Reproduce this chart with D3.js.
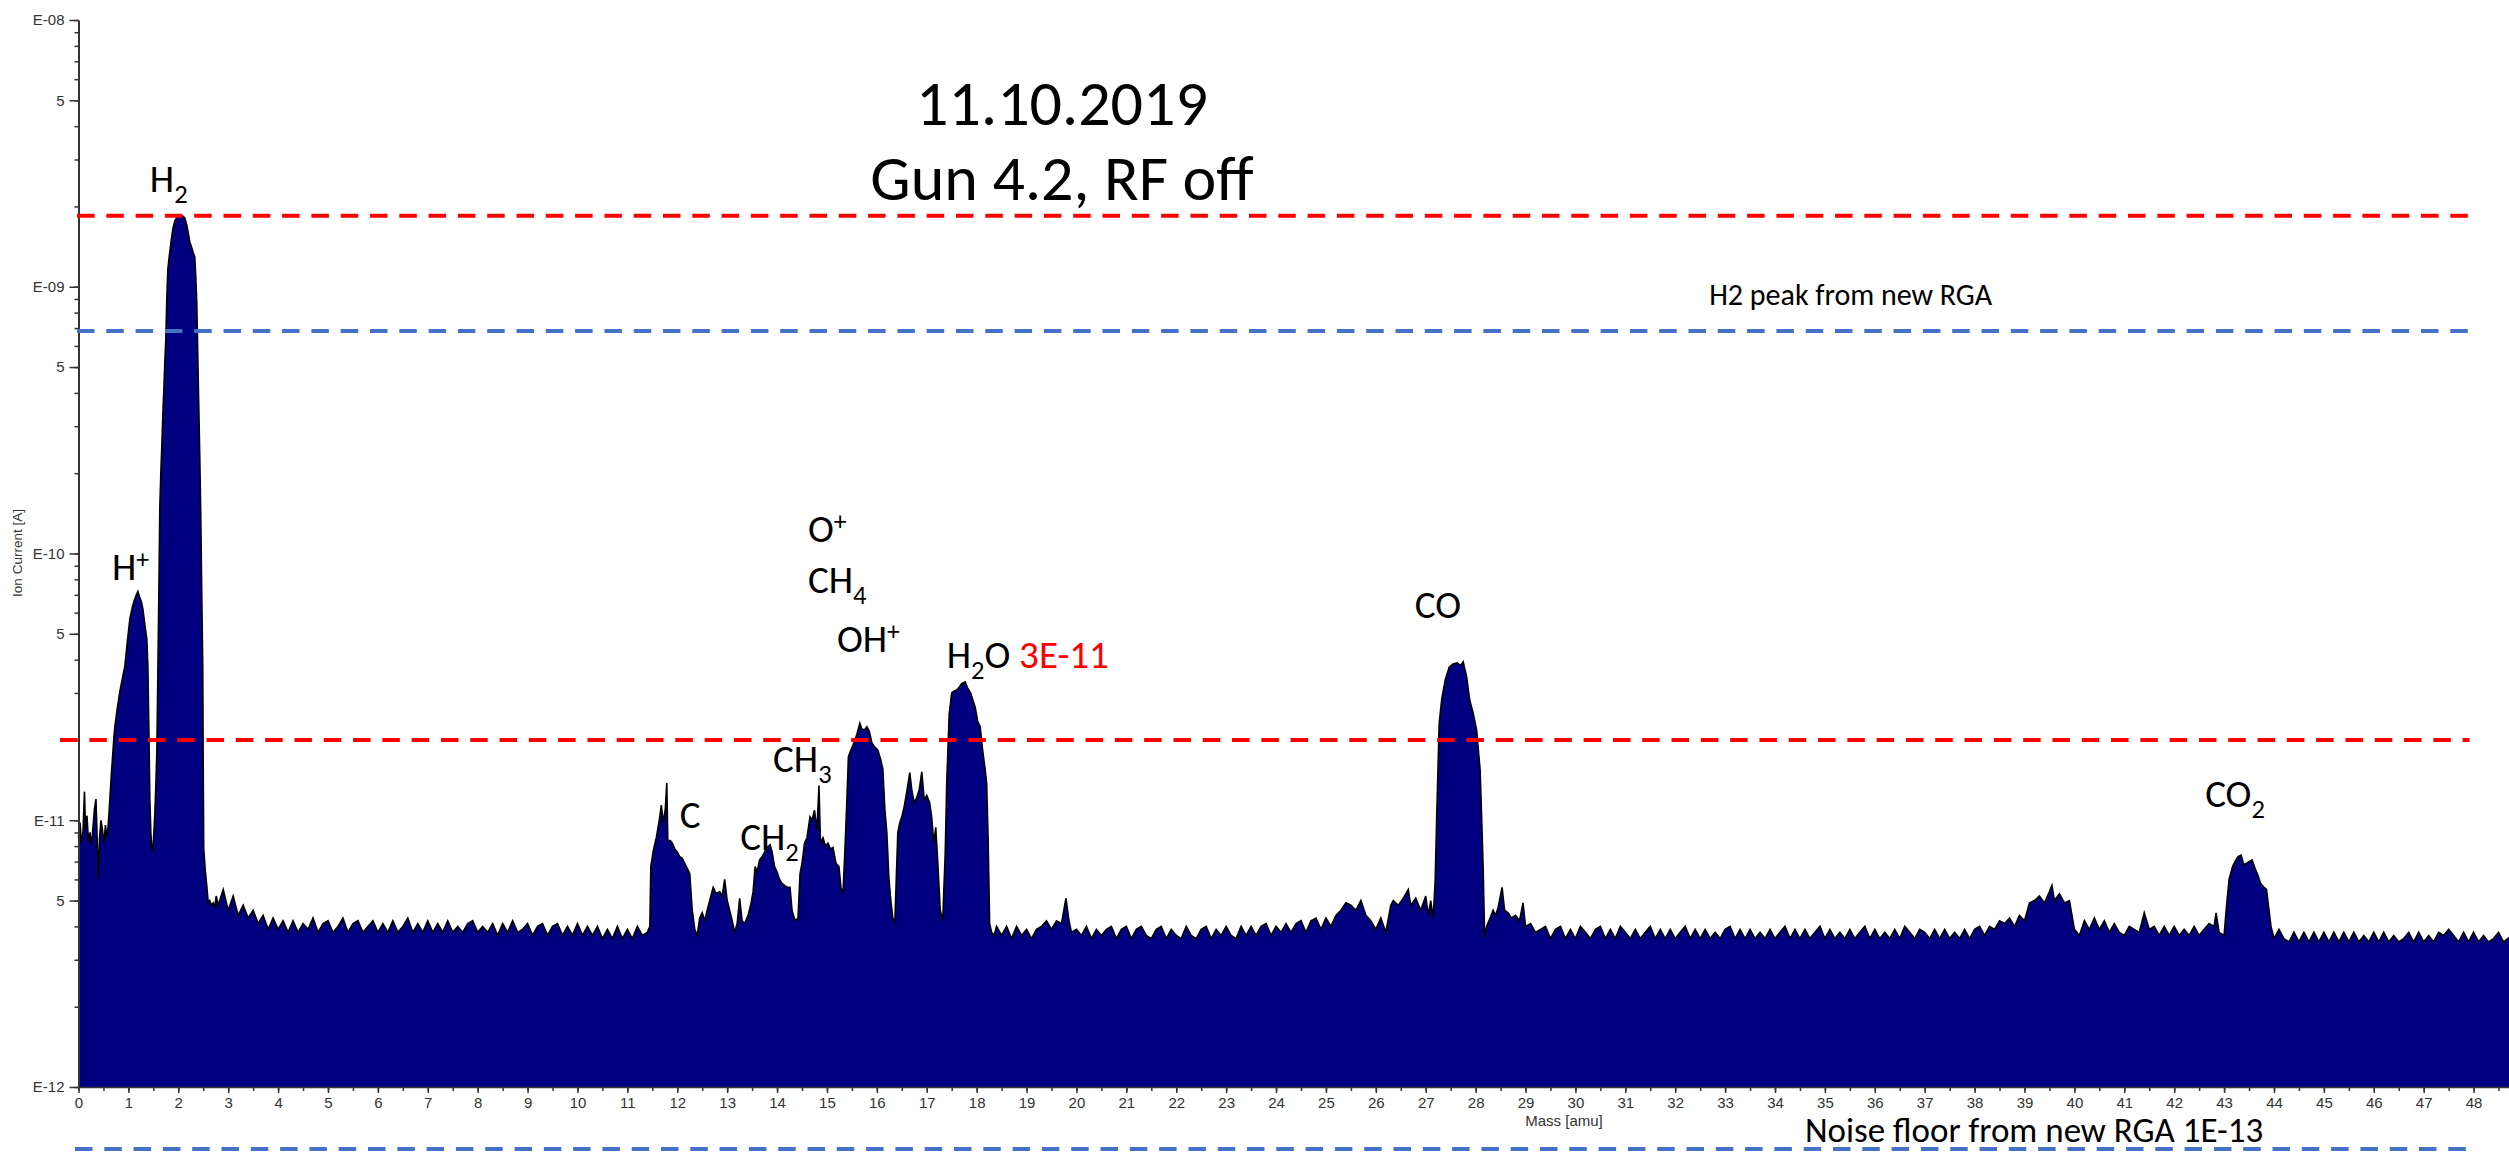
<!DOCTYPE html>
<html><head><meta charset="utf-8">
<script src="https://cdn.jsdelivr.net/npm/d3@7"></script>
<style>body{margin:0;background:#fff}svg{display:block;background:#fff}</style>
</head><body>
<svg id="c" width="2509" height="1153"></svg>
<script>
// ---- data (mass [amu], ion current [pA]) ----
const hydrogenRegion = [[0.00,8.6],[0.03,9.8],[0.06,8.2],[0.09,9.0],[0.12,12.8],[0.14,9.2],[0.17,10.4],[0.20,8.3],[0.23,9.0],[0.26,8.0],[0.29,9.4],[0.32,11.0],[0.35,12.0],[0.38,7.8],[0.40,6.0],[0.42,8.5],[0.45,10.0],[0.48,9.2],[0.51,8.2],[0.54,9.6],[0.57,8.6],[0.59,9.3],[0.61,10.5],[0.63,12.1],[0.66,15],[0.69,18],[0.71,20.5],[0.73,22.6],[0.75,24],[0.77,25.7],[0.80,28],[0.83,30.5],[0.88,34],[0.93,38],[0.98,47],[1.03,57],[1.08,63],[1.12,67],[1.16,70],[1.19,72],[1.22,69],[1.26,66],[1.29,62],[1.33,54],[1.37,47.6],[1.39,38],[1.41,22],[1.43,12],[1.45,9.0],[1.47,7.8],[1.49,7.6],[1.51,9.0],[1.53,10.6],[1.55,13.5],[1.57,18],[1.59,35],[1.61,70],[1.63,150],[1.65,200],[1.67,253],[1.69,330],[1.71,410],[1.73,520],[1.75,638],[1.77,908],[1.79,1157],[1.81,1260],[1.83,1352],[1.86,1500],[1.89,1640],[1.93,1767],[1.97,1815],[2.01,1845],[2.05,1845],[2.09,1840],[2.13,1810],[2.17,1700],[2.20,1590],[2.23,1473],[2.27,1400],[2.30,1340],[2.33,1294],[2.35,1100],[2.37,870],[2.39,560],[2.41,360],[2.43,232],[2.45,140],[2.47,70],[2.49,38],[2.50,15],[2.51,7.8],[2.54,6.5],[2.57,5.7],[2.60,4.9],[2.63,5.0],[2.66,4.8],[2.70,4.9],[2.73,4.7],[2.76,5.2]];
const lowBaseline = [[2.8,4.8],[2.9,5.5],[3.0,4.6],[3.1,5.2],[3.2,4.4],[3.3,4.8],[3.4,4.3],[3.5,4.6],[3.6,4.1],[3.7,4.4],[3.8,3.9],[3.9,4.3],[4.0,3.9],[4.1,4.2],[4.2,3.8],[4.3,4.2],[4.4,3.8],[4.5,4.1],[4.6,3.9],[4.7,4.3],[4.8,3.8],[4.9,4.1],[5.0,4.2],[5.1,3.8],[5.2,4.0],[5.3,4.3],[5.4,3.8],[5.5,4.1],[5.6,4.2],[5.7,3.8],[5.8,4.0],[5.9,4.2],[6.0,3.8],[6.1,4.1],[6.2,3.8],[6.3,4.2],[6.4,3.8],[6.5,4.0],[6.6,4.3],[6.7,3.8],[6.8,4.1],[6.9,3.8],[7.0,4.2],[7.1,3.8],[7.2,4.1],[7.3,3.8],[7.4,4.2],[7.5,3.8],[7.6,4.0],[7.7,3.8],[7.8,4.1],[7.9,4.2],[8.0,3.8],[8.1,4.0],[8.2,3.8],[8.3,4.1],[8.4,3.7],[8.5,4.1],[8.6,3.8],[8.7,4.2],[8.8,3.8],[8.9,3.9],[9.0,4.1],[9.1,3.7],[9.2,4.0],[9.3,4.1],[9.4,3.7],[9.5,4.0],[9.6,4.1],[9.7,3.7],[9.8,4.0],[9.9,3.7],[10.0,4.1],[10.1,3.7],[10.2,4.0],[10.3,3.7],[10.4,4.0],[10.5,3.6],[10.6,3.9],[10.7,3.6],[10.8,4.0],[10.9,3.6],[11.0,3.9],[11.1,3.6],[11.2,4.0],[11.3,3.7],[11.4,3.8]];
const hydrocarbonRegion = [[11.45,4.0],[11.47,6.7],[11.52,7.7],[11.58,8.6],[11.62,9.5],[11.65,10.3],[11.68,11.4],[11.72,9.8],[11.76,11.0],[11.79,13.8],[11.81,8.4],[11.86,8.4],[11.9,8.2],[11.95,7.8],[12.0,7.6],[12.05,7.3],[12.1,7.2],[12.15,6.9],[12.2,6.6],[12.25,6.3],[12.3,4.6],[12.35,3.9],[12.4,3.7],[12.45,4.3],[12.5,4.5],[12.55,4.2],[12.6,4.6],[12.65,5.0],[12.72,5.6],[12.78,5.3],[12.85,5.4],[12.9,5.2],[12.95,6.0],[13.0,5.0],[13.05,4.6],[13.1,4.2],[13.15,3.8],[13.2,4.1],[13.25,5.1],[13.3,4.2],[13.35,4.1],[13.42,4.4],[13.48,4.9],[13.52,5.4],[13.56,6.7],[13.6,6.4],[13.65,7.1],[13.7,7.3],[13.75,7.6],[13.8,7.9],[13.86,8.1],[13.9,7.6],[13.95,6.7],[14.0,6.4],[14.05,6.0],[14.1,5.8],[14.15,5.7],[14.2,5.6],[14.26,5.6],[14.3,4.6],[14.36,4.2],[14.42,4.3],[14.46,6.3],[14.5,6.9],[14.55,8.2],[14.6,8.6],[14.66,10.3],[14.7,10.0],[14.75,10.9],[14.8,9.2],[14.84,13.5],[14.87,8.2],[14.92,8.6],[14.97,8.0],[15.02,8.2],[15.07,7.8],[15.12,7.9],[15.18,6.9],[15.24,6.7],[15.28,5.6],[15.32,5.3],[15.36,7.7],[15.4,12],[15.43,17.3],[15.48,18.3],[15.54,19.5],[15.6,21],[15.66,23.1],[15.7,22],[15.75,21.8],[15.8,22.4],[15.85,21.5],[15.9,19.5],[15.96,18.8],[16.02,18.3],[16.08,16.8],[16.12,15.5],[16.16,11],[16.2,9.0],[16.24,6.1],[16.28,5.0],[16.32,4.3],[16.36,4.1],[16.42,9.0],[16.46,9.8],[16.5,10.3],[16.55,11.3],[16.6,12.8],[16.66,15.1],[16.7,13],[16.75,11.6],[16.8,12.2],[16.85,13],[16.9,15.2],[16.95,11.9],[17.0,12.4],[17.06,11.6],[17.1,10.2],[17.14,8.2],[17.18,9.4],[17.22,7.0],[17.27,4.6],[17.32,4.2],[17.37,7.5],[17.4,13.8],[17.45,25],[17.5,30],[17.55,30.5],[17.6,30.8],[17.65,31.5],[17.7,32.5],[17.77,33],[17.82,31.3],[17.88,30],[17.93,28],[17.97,26.6],[18.02,23.5],[18.07,22.4],[18.12,18.3],[18.17,15.5],[18.2,13.8],[18.23,8.5],[18.26,4.1],[18.3,3.8],[18.35,3.7]];
const midBaseline = [[18.4,4.0],[18.5,3.7],[18.6,4.0],[18.7,3.6],[18.8,4.0],[18.9,3.7],[19.0,3.9],[19.1,3.6],[19.2,3.9],[19.3,4.0],[19.4,4.2],[19.5,3.9],[19.6,4.2],[19.7,4.1],[19.79,5.1],[19.85,4.2],[19.9,3.8],[20.0,3.9],[20.1,3.7],[20.2,4.0],[20.3,3.6],[20.4,3.9],[20.5,3.7],[20.6,3.9],[20.7,4.0],[20.8,3.6],[20.9,3.9],[21.0,4.0],[21.1,3.6],[21.2,3.9],[21.3,4.0],[21.4,3.7],[21.5,3.6],[21.6,3.9],[21.7,4.0],[21.8,3.6],[21.9,3.9],[22.0,3.7],[22.1,3.6],[22.2,4.0],[22.3,3.7],[22.4,3.6],[22.5,3.9],[22.6,4.0],[22.7,3.6],[22.8,3.9],[22.9,3.7],[23.0,4.0],[23.1,3.7],[23.2,3.6],[23.3,4.0],[23.4,3.7],[23.5,4.0],[23.6,3.7],[23.7,4.0],[23.8,4.1],[23.9,3.7],[24.0,4.0],[24.1,3.8],[24.2,4.1],[24.3,3.8],[24.4,4.1],[24.5,4.2],[24.6,3.8],[24.7,4.2],[24.8,4.3],[24.9,3.9],[25.0,4.3],[25.1,4.0],[25.2,4.4],[25.3,4.6],[25.4,4.9],[25.5,4.8],[25.6,4.6],[25.7,5.0],[25.8,4.4],[25.9,4.2],[26.0,3.9],[26.1,4.3],[26.2,3.8],[26.3,4.8],[26.35,5.0],[26.45,4.8],[26.55,5.1],[26.65,5.5],[26.7,4.8],[26.8,5.1],[26.9,4.6],[27.0,5.2],[27.05,4.4],[27.1,5.0],[27.15,4.3]];
const coRegion = [[27.19,6],[27.22,10.3],[27.27,23.1],[27.32,28.3],[27.39,33.6],[27.47,37.5],[27.55,38.5],[27.63,38.9],[27.7,38],[27.75,39.3],[27.82,34.5],[27.88,28.3],[27.95,25.2],[28.02,21.8],[28.09,15.4],[28.12,10.3],[28.15,6.7],[28.18,3.65],[28.22,4.0],[28.29,4.3],[28.35,4.6],[28.4,4.4],[28.45,4.7],[28.53,5.6],[28.58,4.6],[28.65,4.5],[28.72,4.3],[28.8,4.4],[28.88,4.2],[28.95,4.9],[29.0,4.0],[29.1,4.1],[29.2,3.8],[29.3,3.9]];
const highBaseline = [[29.4,4.0],[29.5,3.6],[29.6,3.9],[29.7,4.0],[29.8,3.6],[29.9,3.9],[30.0,3.6],[30.1,4.0],[30.2,3.8],[30.3,3.6],[30.4,3.9],[30.5,4.0],[30.6,3.6],[30.7,3.9],[30.8,3.6],[30.9,4.0],[31.0,3.8],[31.1,3.6],[31.2,3.9],[31.3,3.6],[31.4,3.8],[31.5,4.0],[31.6,3.6],[31.7,3.9],[31.8,3.6],[31.9,3.9],[32.0,3.6],[32.1,3.8],[32.2,4.0],[32.3,3.6],[32.4,3.9],[32.5,3.6],[32.6,3.9],[32.7,3.6],[32.8,3.8],[32.9,3.6],[33.0,3.9],[33.1,4.0],[33.2,3.6],[33.3,3.9],[33.4,3.6],[33.5,3.9],[33.6,3.6],[33.7,3.8],[33.8,3.6],[33.9,3.9],[34.0,3.6],[34.1,3.8],[34.2,4.0],[34.3,3.6],[34.4,3.9],[34.5,3.6],[34.6,3.9],[34.7,3.6],[34.8,3.8],[34.9,4.0],[35.0,3.6],[35.1,3.9],[35.2,3.6],[35.3,3.8],[35.4,3.6],[35.5,3.9],[35.6,3.6],[35.7,3.8],[35.8,4.0],[35.9,3.6],[36.0,3.9],[36.1,3.6],[36.2,3.8],[36.3,3.6],[36.4,3.9],[36.5,3.6],[36.6,4.0],[36.7,3.8],[36.8,3.6],[36.9,3.9],[37.0,3.8],[37.1,3.6],[37.2,3.9],[37.3,3.6],[37.4,3.9],[37.5,3.6],[37.6,3.8],[37.7,3.6],[37.8,3.9],[37.9,3.6],[38.0,3.9],[38.1,4.0],[38.2,3.7],[38.3,4.0],[38.4,3.9],[38.5,4.2],[38.6,4.1],[38.7,4.3],[38.8,4.0],[38.9,4.4],[39.0,4.2],[39.1,4.9],[39.2,5.0],[39.3,5.2],[39.4,4.9],[39.5,5.4],[39.55,5.7],[39.6,5.0],[39.7,5.3],[39.8,4.9],[39.9,5.0],[40.0,3.9],[40.1,3.7],[40.2,4.2],[40.3,3.9],[40.4,4.3],[40.5,3.9],[40.6,4.2],[40.7,3.8],[40.8,4.1],[40.9,3.8],[41.0,3.7],[41.1,4.0],[41.2,3.9],[41.3,3.8],[41.4,4.5],[41.5,3.9],[41.6,4.0],[41.7,3.7],[41.8,4.0],[41.9,3.7],[42.0,4.0],[42.1,3.7],[42.2,3.9],[42.3,3.7],[42.4,4.0],[42.5,3.7],[42.6,3.9],[42.7,4.1],[42.8,4.0],[42.84,4.5],[42.9,3.8],[43.0,3.7]];
const co2Region = [[43.05,4.8],[43.1,6.0],[43.17,6.7],[43.22,7.0],[43.28,7.3],[43.34,7.4],[43.4,6.8],[43.45,6.9],[43.5,7.0],[43.56,7.1],[43.62,6.6],[43.68,6.2],[43.73,5.8],[43.8,5.6],[43.85,5.5],[43.9,4.6],[43.94,4.0]];
const tailBaseline = [[44.0,3.6],[44.1,3.9],[44.2,3.6],[44.3,3.5],[44.4,3.8],[44.5,3.5],[44.6,3.8],[44.7,3.5],[44.8,3.8],[44.9,3.5],[45.0,3.8],[45.1,3.5],[45.2,3.8],[45.3,3.5],[45.4,3.8],[45.5,3.5],[45.6,3.8],[45.7,3.5],[45.8,3.7],[45.9,3.5],[46.0,3.8],[46.1,3.5],[46.2,3.8],[46.3,3.5],[46.4,3.7],[46.5,3.5],[46.6,3.6],[46.7,3.8],[46.8,3.5],[46.9,3.8],[47.0,3.5],[47.1,3.7],[47.2,3.5],[47.3,3.8],[47.4,3.7],[47.5,3.9],[47.6,3.7],[47.7,3.5],[47.8,3.8],[47.9,3.5],[48.0,3.8],[48.1,3.5],[48.2,3.7],[48.3,3.5],[48.4,3.6],[48.5,3.8],[48.6,3.5],[48.73,3.65]];

const xTickValues = [0,1,2,3,4,5,6,7,8,9,10,11,12,13,14,15,16,17,18,19,20,21,22,23,24,25,26,27,28,29,30,31,32,33,34,35,36,37,38,39,40,41,42,43,44,45,46,47,48];
const yTickValues = [1,5,10,50,100,500,1000,5000,10000];
const yTickLabels = ["E-12","5","E-11","5","E-10","5","E-09","5","E-08"];

// reference lines: value [pA], from mass, to mass
const refLines = [
  {value:1845, from:-0.03, to:48.12, kind:"red"},
  {value:683,  from:-0.03, to:48.12, kind:"blue"},
  {value:20.0, from:-0.37, to:47.92, kind:"red"},
  {value:0.585,from:-0.07, to:48.07, kind:"blue"}
];

// annotations: parts, mass, current (anchor at left/baseline)
const annotations = [
  {parts:[["H"],["2","sub"]], m:1.43, v:2270},
  {parts:[["H"],["+","sup"]], m:0.67, v:79.6},
  {parts:[["C"]], m:12.05, v:9.36},
  {parts:[["CH"],["2","sub"]], m:13.26, v:7.74},
  {parts:[["CH"],["3","sub"]], m:13.92, v:15.2},
  {parts:[["O"],["+","sup"]], m:14.62, v:110.6},
  {parts:[["CH"],["4","sub"]], m:14.62, v:71.2},
  {parts:[["OH"],["+","sup"]], m:15.2, v:42.8},
  {parts:[["H"],["2","sub"],["O"],[" 3E-11","red"]], m:17.4, v:37.2},
  {parts:[["CO"]], m:26.78, v:57.4},
  {parts:[["CO"],["2","sub"]], m:42.62, v:11.2}
];
const titleLines = ["11.10.2019","Gun 4.2, RF off"];
const notes = [
  {text:"H2 peak from new RGA", m:32.68, v:855, size:30},
  {text:"Noise floor from new RGA 1E-13", m:34.6, v:0.62, size:35}
];

// ---- drawing ----
const svg = d3.select("#c");
const spectrum = [].concat(hydrogenRegion, lowBaseline, hydrocarbonRegion, midBaseline, coRegion, highBaseline, co2Region, tailBaseline);
const x = d3.scaleLinear().domain([0,48.73]).range([78.5,2510]);
const y = d3.scaleLog().domain([1,10000]).range([1087,20]);
const labelFont = "Carlito, Lato, 'Open Sans', sans-serif";
const axisFont = "'Liberation Sans', Arial, sans-serif";

const area = d3.area().x(d=>x(d[0])).y0(y(1)).y1(d=>y(d[1]));
svg.append("path").datum(spectrum).attr("d",area).attr("fill","#000080");
svg.append("path").datum(spectrum).attr("d",d3.line().x(d=>x(d[0])).y(d=>y(d[1])))
  .attr("fill","none").attr("stroke","#000").attr("stroke-width",1.6);

// y axis
const yMinor = svg.append("g").attr("transform",`translate(${x(0)},0)`)
  .call(d3.axisLeft(y).tickValues(y.ticks()).tickSize(4).tickFormat(""));
yMinor.select(".domain").remove();
yMinor.selectAll("line").attr("stroke","#333").attr("stroke-width",1.5);
const yAx = svg.append("g").attr("transform",`translate(${x(0)},0)`)
  .call(d3.axisLeft(y).tickValues(yTickValues).tickSize(9).tickSizeOuter(0).tickPadding(5).tickFormat((d,i)=>yTickLabels[i]));
yAx.select(".domain").attr("stroke","#333").attr("stroke-width",2);
yAx.selectAll("line").attr("stroke","#333").attr("stroke-width",1.5);
yAx.selectAll("text").attr("font-family",axisFont).attr("font-size",15).attr("fill","#333");

// x axis
const xMinor = svg.append("g").attr("transform",`translate(0,${y(1)})`)
  .call(d3.axisBottom(x).tickValues(x.ticks(100)).tickSize(4).tickFormat(""));
xMinor.select(".domain").remove();
xMinor.selectAll("line").attr("stroke","#333").attr("stroke-width",1.5);
const xAx = svg.append("g").attr("transform",`translate(0,${y(1)})`)
  .call(d3.axisBottom(x).tickValues(xTickValues).tickSize(6).tickSizeOuter(0).tickPadding(4).tickFormat(d=>d));
xAx.select(".domain").attr("stroke","#333").attr("stroke-width",1.5);
xAx.selectAll("line").attr("stroke","#333").attr("stroke-width",1.5);
xAx.selectAll("text").attr("font-family",axisFont).attr("font-size",15).attr("fill","#333");

svg.append("text").attr("x",1564).attr("y",1126).attr("text-anchor","middle")
  .attr("font-family",axisFont).attr("font-size",15).attr("fill","#333").text("Mass [amu]");
svg.append("text").attr("transform","translate(22,553) rotate(-90)").attr("text-anchor","middle")
  .attr("font-family",axisFont).attr("font-size",13.5).attr("fill","#333").text("Ion Current [A]");

// reference lines
svg.selectAll("line.ref").data(refLines).enter().append("line").attr("class","ref")
  .attr("x1",d=>x(d.from)).attr("x2",d=>x(d.to)).attr("y1",d=>y(d.value)).attr("y2",d=>y(d.value))
  .attr("stroke",d=>d.kind==="red"?"#ff0000":"#4472c4").attr("stroke-width",4)
  .attr("stroke-dasharray","17.5,11.8");

// annotations
const fs = 39;
annotations.forEach(a=>{
  const t = svg.append("text").attr("x",x(a.m)).attr("y",y(a.v))
    .attr("font-family",labelFont).attr("font-size",fs).attr("fill","#000");
  let shift = 0;
  a.parts.forEach(p=>{
    const ts = t.append("tspan").text(p[0]);
    let target = 0;
    if (p[1]==="sub"){ target = 11; ts.attr("font-size",fs*0.68); }
    else if (p[1]==="sup"){ target = -12; ts.attr("font-size",fs*0.66); }
    else if (p[1]==="red"){ ts.attr("fill","#ff0000"); }
    if (target!==shift){ ts.attr("dy",target-shift); shift=target; }
  });
});

// title
svg.selectAll("text.title").data(titleLines).enter().append("text").attr("class","title")
  .attr("x",1062).attr("y",(d,i)=>[125,200][i]).attr("text-anchor","middle")
  .attr("font-family",labelFont).attr("font-size",64).attr("fill","#000").text(d=>d);

// notes
notes.forEach(n=>{
  svg.append("text").attr("x",x(n.m)).attr("y",y(n.v)).attr("font-family",labelFont)
    .attr("font-size",n.size).attr("fill","#000").text(n.text);
});
</script>
</body></html>
